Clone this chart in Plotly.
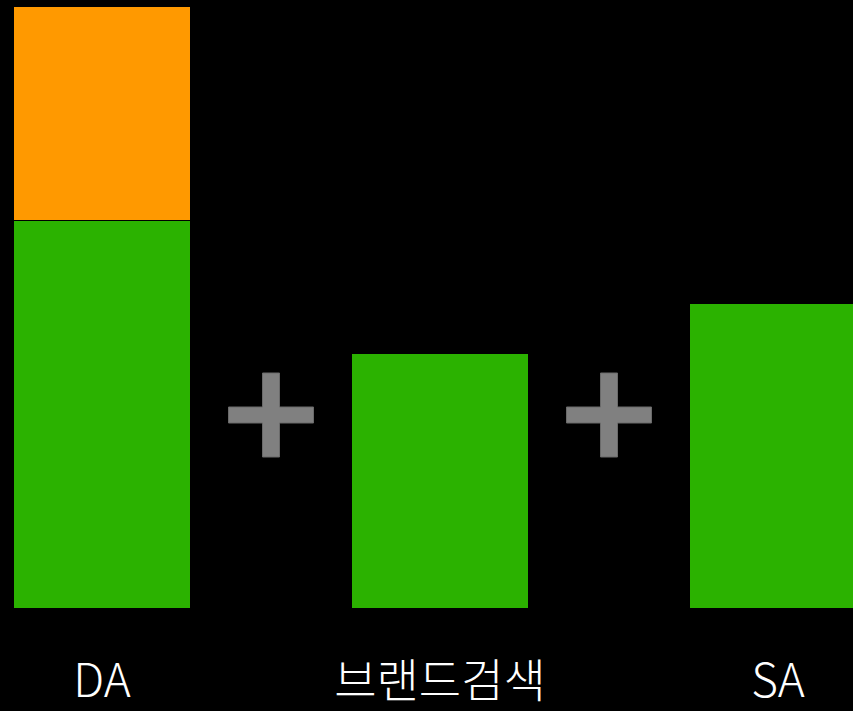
import plotly.graph_objects as go

# Channel contributions (relative units)
categories = ["DA", "브랜드검색", "SA"]
base_values = [64.3, 42.2, 50.5]     # green portion
extra_values = [35.7, 0, 0]          # orange portion stacked on DA

GREEN = "#2bb200"
ORANGE = "#ff9900"
PLUS_GRAY = "#808080"

fig = go.Figure()
fig.add_trace(go.Bar(
    x=categories, y=base_values, width=0.521,
    marker=dict(color=GREEN, line=dict(color="#000000", width=1)),
    hoverinfo="skip",
))
fig.add_trace(go.Bar(
    x=categories, y=extra_values, width=0.521,
    marker=dict(color=ORANGE, line=dict(color="#000000", width=1)),
    hoverinfo="skip",
))

# "+" signs between the bars, sized in pixels around an anchor point
plus_path = ("M -42.5,-8 L -8.5,-8 L -8.5,-42 L 8.5,-42 L 8.5,-8 L 42.5,-8 "
             "L 42.5,8 L 8.5,8 L 8.5,42 L -8.5,42 L -8.5,8 L -42.5,8 Z")
shapes = []
for xa in (0.5, 1.5):
    shapes.append(dict(
        type="path", xref="x", yref="y",
        xsizemode="pixel", ysizemode="pixel",
        xanchor=xa, yanchor=32.06,
        path=plus_path,
        fillcolor=PLUS_GRAY, line=dict(color="#6a6a6a", width=1),
        layer="above",
    ))

fig.update_layout(
    barmode="stack",
    width=853, height=711,
    margin=dict(l=0, r=0, t=6, b=103, autoexpand=False),
    paper_bgcolor="#000000", plot_bgcolor="#000000",
    showlegend=False,
    shapes=shapes,
    font=dict(family="Noto Sans CJK KR", color="#ffffff"),
)
fig.update_xaxes(
    type="category", range=[-0.3018, 2.2219], automargin=False,
    showgrid=False, zeroline=False, showline=False, ticks="",
    tickfont=dict(size=46, color="#ffffff", family="Noto Sans CJK KR", weight=300),
    ticklabelstandoff=42,
)
fig.update_yaxes(
    range=[0, 100], visible=False, showgrid=False, zeroline=False,
    automargin=False,
)

fig.write_html("out.html")
